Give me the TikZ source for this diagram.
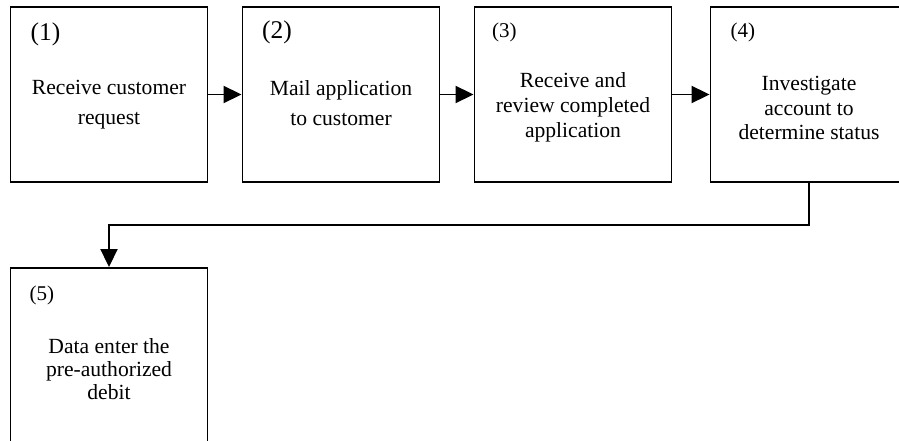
\documentclass[tikz,border=0pt]{standalone}
\usepackage{fontspec}
\setmainfont{Liberation Serif}
\usetikzlibrary{arrows.meta}
\begin{document}
\begin{tikzpicture}[x=1pt,y=-1pt,
  stepbox/.style={draw, line width=1.9pt, inner sep=0pt,
    minimum width=197pt, minimum height=175pt},
  body/.style={anchor=north, inner sep=0pt, align=center,
    execute at begin node={\rule{0pt}{18pt}}},
  bigtag/.style={anchor=base west, inner sep=0pt, font=\fontsize{25.5}{30}\selectfont},
  smalltag/.style={anchor=base west, inner sep=0pt, font=\fontsize{21}{25}\selectfont},
  conn/.style={line width=1.9pt, -{Triangle[length=18pt,width=17pt]}}]
\useasboundingbox (0,0) rectangle (899,441);
\clip (0,0) rectangle (899,441);

% process boxes
\node[stepbox] (b1) at (109,94.5) {};
\node[stepbox] (b2) at (341,94.5) {};
\node[stepbox] (b3) at (573,94.5) {};
\node[stepbox] (b4) at (809,94.5) {};
\node[stepbox, minimum height=202pt] (b5) at (109,369) {};

% step numbers
\node[bigtag] (t1) at (30.5,40.4) {(1)};
\node[bigtag] (t2) at (262,39) {(2)};
\node[smalltag] (t3) at (492,38) {(3)};
\node[smalltag] (t4) at (730.5,38) {(4)};
\node[smalltag] (t5) at (29.5,300) {(5)};

% step descriptions
\node[body, font=\fontsize{21.6}{30}\selectfont] (d1) at (109,80.3)
  {Receive customer\\request};
\node[body, font=\fontsize{21.6}{30}\selectfont] (d2) at (341,80.3)
  {Mail application\\to customer};
\node[body, font=\fontsize{21.6}{24.7}\selectfont] (d3) at (573,72.7)
  {Receive and\\review completed\\application};
\node[body, font=\fontsize{21.6}{24.7}\selectfont] (d4) at (809,76)
  {Investigate\\account to\\determine status};
\node[body, font=\fontsize{21.6}{23}\selectfont] (d5) at (109,338.7)
  {Data enter the\\pre-authorized\\debit};

% flow
\coordinate (elbow) at (809,225);
\draw[conn] (b1.east) -- (b2.west);
\draw[conn] (b2.east) -- (b3.west);
\draw[conn] (b3.east) -- (b4.west);
\draw[conn] (b4.south) -- (elbow) -| (b5.north);
\end{tikzpicture}
\end{document}
